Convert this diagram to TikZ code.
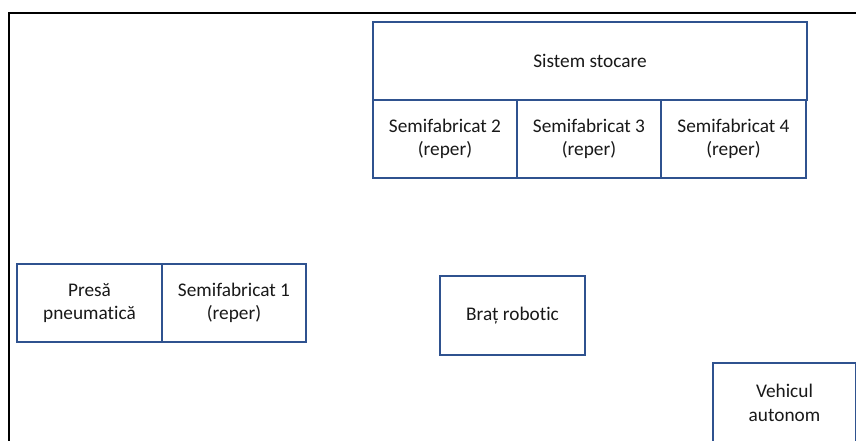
\documentclass[tikz,border=0pt]{standalone}
\usepackage{fontspec}
\setmainfont{Carlito}[Ligatures={NoCommon}]
\definecolor{boxblue}{RGB}{47,82,143}
\begin{document}
\begin{tikzpicture}[x=1bp,y=-1bp,
  blk/.style={draw=boxblue,line width=2.6bp,fill=white,rectangle,inner sep=0pt,
    align=center,text=black!90,font=\fontsize{19.3bp}{23.6bp}\selectfont,
    minimum height=78bp},
  frame/.style={line width=2.6bp,draw=black}]
\useasboundingbox (0,0) rectangle (856,441);
\clip (0,0) rectangle (856,441);
\coordinate (ftl) at (9,13);
\coordinate (ftr) at (857,13);
\coordinate (fbl) at (9,442);
\draw[frame] (ftr) -- (ftl) -- (fbl);
\node[blk,minimum width=434bp] (stoc) at (590,61) {Sistem stocare};
\node[blk,minimum width=144bp] (s2) at (445,139) {Semifabricat 2\\(reper)};
\node[blk,minimum width=144bp] (s3) at (589,139) {Semifabricat 3\\(reper)};
\node[blk,minimum width=145bp] (s4) at (733.5,139) {Semifabricat 4\\(reper)};
\node[blk,minimum width=145bp] (presa) at (89.5,303) {Presă\\pneumatică};
\node[blk,minimum width=144bp] (s1) at (234,303) {Semifabricat 1\\(reper)};
\node[blk,minimum width=145bp,minimum height=79bp] (brat) at (512.5,315.5) {Braț robotic};
\node[blk,minimum width=143bp,minimum height=80bp] (veh) at (784.5,403) {Vehicul\\autonom};
\end{tikzpicture}
\end{document}
